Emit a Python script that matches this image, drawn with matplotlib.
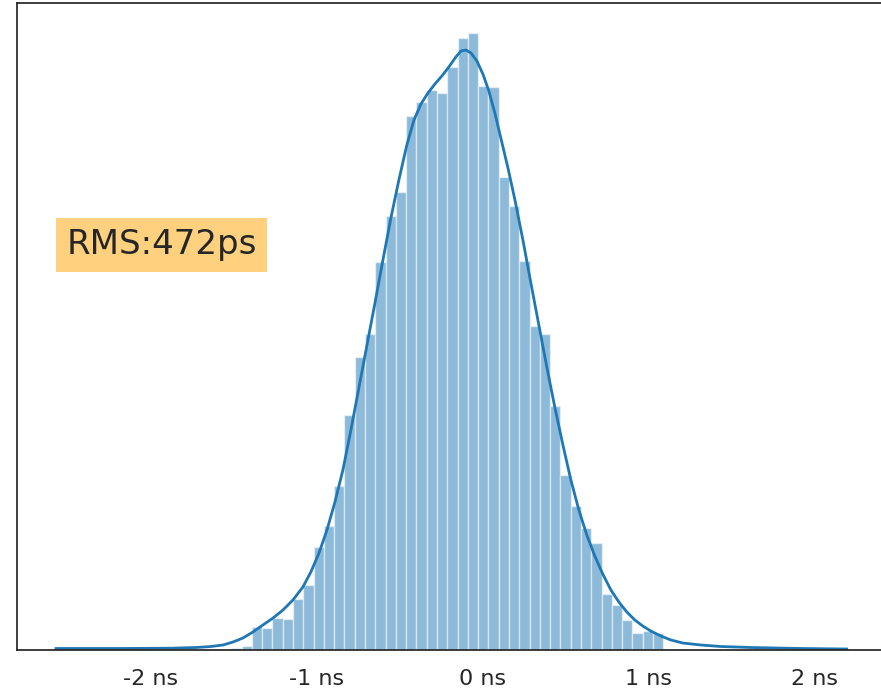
import matplotlib
matplotlib.use("Agg")
import matplotlib.pyplot as plt
import numpy as np

# histogram: first bin edge, bin width (ns) and bar heights (arbitrary counts)
bin_start = -2.568
bin_width = 0.06194
counts = [0.5, 0, 0, 0, 0, 0, 0, 0, 0, 0,
          0, 0, 0, 0, 1, 1, 1.5, 2, 4, 23,
          22, 32, 31, 51, 65, 103, 124, 164, 235, 293,
          316, 388, 434, 458, 534, 548, 560, 557, 583, 612,
          617, 564, 563, 473, 444, 389, 324, 316, 244, 175,
          144, 122, 107, 56, 45, 30, 17, 19, 17, 1,
          1, 0, 0, 0, 0, 0, 0, 0, 0, 0,
          0, 0, 0, 0, 0, 0, 0.5]

# density curve (ns, same units as counts)
kde_x = [-2.571, -2.179, -1.878, -1.728, -1.638, -1.565, -1.505, -1.445, -1.385,
         -1.325, -1.264, -1.204, -1.144, -1.084, -1.036, -0.987, -0.939, -0.891,
         -0.843, -0.795, -0.747, -0.698, -0.650, -0.602, -0.554, -0.506, -0.458,
         -0.415, -0.373, -0.331, -0.289, -0.247, -0.205, -0.163, -0.132, -0.102,
         -0.072, -0.036, 0.0, 0.036, 0.072, 0.108, 0.151, 0.193, 0.241,
         0.289, 0.337, 0.385, 0.433, 0.482, 0.530, 0.578, 0.626, 0.674,
         0.722, 0.771, 0.819, 0.867, 0.915, 0.963, 1.011, 1.072, 1.132,
         1.204, 1.312, 1.433, 1.613, 1.914, 2.191]
kde_y = [1.5, 1.5, 1.8, 2.5, 3.5, 5, 8, 12, 18,
         25, 32, 40, 50, 63, 78, 97, 120, 148,
         180, 220, 262, 305, 347, 390, 432, 470, 505,
         530, 546, 557, 566, 574, 583, 593, 599, 600,
         597, 589, 576, 559, 537, 512, 482, 450, 410,
         367, 325, 283, 243, 205, 170, 140, 115, 94,
         76, 60, 48, 38, 30, 24, 19, 14, 10,
         7, 5, 3.5, 2.5, 1.5, 1]

tick_pos = [-2, -1, 0, 1, 2]
tick_labels = ["-2 ns", "-1 ns", "0 ns", "1 ns", "2 ns"]
rms_text = "RMS:472ps"

fig = plt.figure(figsize=(8.81, 6.92), dpi=100)
ax = fig.add_axes([17 / 881, 42 / 692, 871 / 881, 647 / 692])

edges = bin_start + bin_width * np.arange(len(counts))
ax.bar(edges, counts, width=bin_width, align="edge",
       color="#1f77b4", alpha=0.5, edgecolor="white", linewidth=1)
ax.plot(kde_x, kde_y, color="#1f77b4", lw=2, solid_joinstyle="round")

ax.set_xlim(-2.806, 2.440)
ax.set_ylim(0, 647)
ax.set_yticks([])
ax.set_xticks(tick_pos)
ax.set_xticklabels(tick_labels, fontsize=16, color="#262626")
ax.tick_params(axis="x", length=0, pad=14)
for s in ax.spines.values():
    s.set_color("#262626")
    s.set_linewidth(1.25)

ax.text(0.057, 0.626, rms_text, transform=ax.transAxes, fontsize=24.5,
        color="#262626", va="center", ha="left",
        bbox=dict(boxstyle="square,pad=0.3", facecolor="orange",
                  alpha=0.5, edgecolor="none"))

fig.savefig("out.png", dpi=100)
